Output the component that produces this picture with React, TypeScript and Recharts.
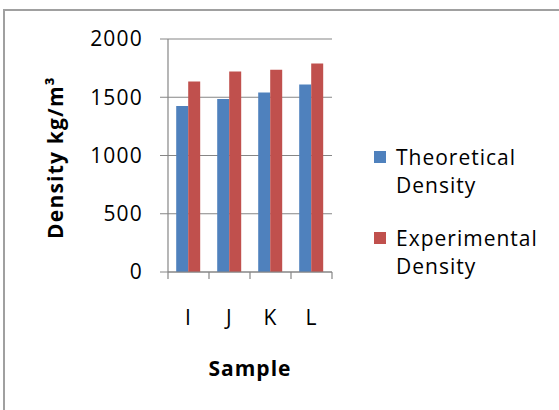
import React from "react";
import { BarChart, Bar, XAxis, YAxis, CartesianGrid, Legend } from "recharts";

const categories = ["I", "J", "K", "L"];
const theoretical = [1425, 1485, 1540, 1610];
const experimental = [1635, 1720, 1735, 1790];
const yTicks = [0, 500, 1000, 1500, 2000];

const data = categories.map((c, i) => ({
  sample: c,
  theo: theoretical[i],
  exp: experimental[i],
}));

const BLUE = "#4F81BD";
const RED = "#C0504D";
const GRID = "#868686";
const FONT = "'Open Sans', sans-serif";
const TEXT_STYLE = { fontFamily: FONT, fontSize: 21, letterSpacing: 1.2, fontWeight: 500 };

const legendItems = [
  { color: BLUE, lines: ["Theoretical", "Density"] },
  { color: RED, lines: ["Experimental", "Density"] },
];

const LegendContent = () => (
  <div style={{ ...TEXT_STYLE, letterSpacing: 1, color: "#000", lineHeight: "28px", textAlign: "left" }}>
    {legendItems.map((it, i) => (
      <div key={i} style={{ display: "flex", alignItems: "flex-start", marginBottom: i === 0 ? 25 : 0 }}>
        <div style={{ width: 12, height: 12, background: it.color, marginTop: 8, marginRight: 10 }} />
        <div>
          {it.lines.map((l, j) => (
            <div key={j}>{l}</div>
          ))}
        </div>
      </div>
    ))}
  </div>
);

const XTick = (props: any) => {
  const { x, y, payload, index, visibleTicksCount } = props;
  const half = payload && payload.offset ? payload.offset : 0;
  const axisY = y;
  const isLast = index === (visibleTicksCount || categories.length) - 1;
  return (
    <g>
      <line x1={x - half} y1={axisY} x2={x - half} y2={axisY + 7} stroke={GRID} strokeWidth={1.2} />
      {isLast && (
        <line x1={x + half} y1={axisY} x2={x + half} y2={axisY + 7} stroke={GRID} strokeWidth={1.2} />
      )}
      <text
        x={x}
        y={axisY + 45}
        textAnchor="middle"
        dominantBaseline="central"
        style={{ ...TEXT_STYLE, fill: "#000" }}
      >
        {payload.value}
      </text>
    </g>
  );
};

const YLabel = (props: any) => {
  const vb = props.viewBox || {};
  const cx = 55;
  const cy = vb.y + vb.height / 2 + 2;
  return (
    <text
      x={cx}
      y={cy}
      transform={`rotate(-90, ${cx}, ${cy})`}
      textAnchor="middle"
      dominantBaseline="central"
      style={{ ...TEXT_STYLE, letterSpacing: 1.2, fontWeight: 700, fill: "#000" }}
    >
      Density kg/m³
    </text>
  );
};

const XLabel = (props: any) => {
  const vb = props.viewBox || {};
  const cx = vb.x + vb.width / 2;
  const cy = vb.y + 96;
  return (
    <text
      x={cx}
      y={cy}
      textAnchor="middle"
      dominantBaseline="central"
      style={{ ...TEXT_STYLE, letterSpacing: 1, fontWeight: 700, fill: "#000" }}
    >
      Sample
    </text>
  );
};

export default function App() {
  return (
    <div style={{ position: "absolute", left: 0, top: 0, width: 559, height: 410, background: "#fff", overflow: "hidden" }}>
      <div
        style={{
          position: "absolute",
          left: 3,
          top: 9,
          width: 560,
          height: 410,
          borderLeft: "2px solid #a0a0a0",
          borderTop: "2px solid #a0a0a0",
        }}
      />
      <BarChart
        width={559}
        height={410}
        data={data}
        margin={{ top: 39, right: 227, bottom: 28, left: 0 }}
        barCategoryGap="20%"
        barGap={0}
        style={{ position: "absolute", left: 0, top: 0 }}
      >
        <CartesianGrid vertical={false} stroke={GRID} strokeWidth={1.2} />
        <XAxis
          dataKey="sample"
          axisLine={{ stroke: GRID, strokeWidth: 1.2 }}
          tickLine={false}
          tickSize={0}
          tickMargin={0}
          height={110}
          interval={0}
          tick={<XTick />}
          label={<XLabel />}
        />
        <YAxis
          width={168}
          domain={[0, 2000]}
          ticks={yTicks}
          interval={0}
          tickSize={8}
          tickMargin={17}
          axisLine={{ stroke: GRID, strokeWidth: 1.2 }}
          tickLine={{ stroke: GRID }}
          tick={{ ...TEXT_STYLE, fill: "#000" }}
          label={<YLabel />}
        />
        <Legend
          layout="horizontal"
          verticalAlign="middle"
          align="center"
          content={<LegendContent />}
          wrapperStyle={{ position: "absolute", left: 374, top: 143, width: 185 }}
        />
        <Bar dataKey="theo" name="Theoretical Density" fill={BLUE} isAnimationActive={false} />
        <Bar dataKey="exp" name="Experimental Density" fill={RED} isAnimationActive={false} />
      </BarChart>
    </div>
  );
}
